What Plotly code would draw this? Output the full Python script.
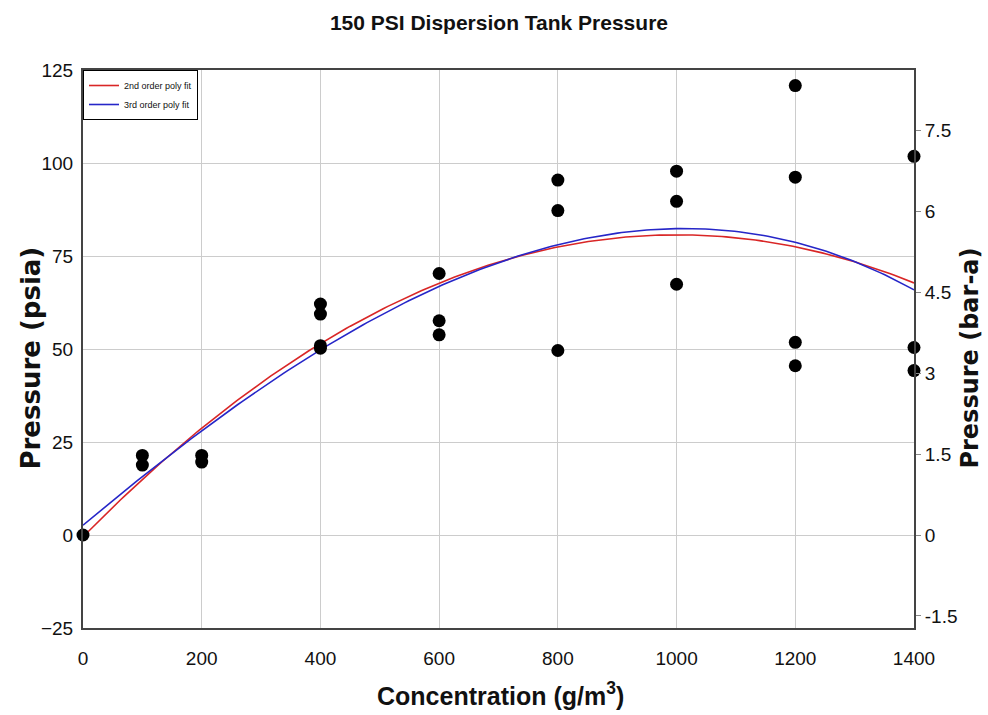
import numpy as np
import plotly.graph_objects as go

# Measured peak pressures at each dust concentration
conc = [0,
        100, 100,
        200, 200,
        400, 400, 400, 400,
        600, 600, 600,
        800, 800, 800,
        1000, 1000, 1000,
        1200, 1200, 1200, 1200,
        1400, 1400, 1400]
pressure_psia = [0.0,
                 21.4, 18.8,
                 21.4, 19.6,
                 62.1, 59.4, 50.9, 50.2,
                 70.3, 57.6, 53.8,
                 95.4, 87.2, 49.6,
                 97.8, 89.7, 67.4,
                 120.8, 96.2, 51.8, 45.5,
                 101.8, 50.4, 44.2]

x_ticks = [0, 200, 400, 600, 800, 1000, 1200, 1400]
psia_ticks = [-25, 0, 25, 50, 75, 100, 125]
bar_ticks = [-1.5, 0, 1.5, 3, 4.5, 6, 7.5]
PSI_PER_BAR = 14.5038

# least-squares polynomial fits of the measurements
x_arr = np.array(conc, dtype=float)
y_arr = np.array(pressure_psia, dtype=float)
xs = np.linspace(0, 1400, 200)
fit2 = np.polyval(np.polyfit(x_arr, y_arr, 2), xs)
fit3 = np.polyval(np.polyfit(x_arr, y_arr, 3), xs)

sans = "Liberation Sans, Arial, sans-serif"
heavy = "DejaVu Sans, Verdana, sans-serif"
ink = "#111111"

fig = go.Figure()
fig.add_trace(go.Scatter(x=xs, y=fit2, mode="lines", name="2nd order poly fit",
                         line=dict(color="#d92626", width=1.6)))
fig.add_trace(go.Scatter(x=xs, y=fit3, mode="lines", name="3rd order poly fit",
                         line=dict(color="#2626c8", width=1.6)))
fig.add_trace(go.Scatter(x=conc, y=pressure_psia, mode="markers", showlegend=False,
                         marker=dict(color="black", size=13, symbol="circle"),
                         cliponaxis=False))
# invisible trace to activate the bar-a axis
fig.add_trace(go.Scatter(x=[0], y=[0], yaxis="y2", mode="markers",
                         marker=dict(opacity=0), showlegend=False, hoverinfo="skip"))

fig.update_layout(
    width=988, height=715,
    margin=dict(l=83, r=74, t=70, b=87),
    paper_bgcolor="white", plot_bgcolor="white",
    title=dict(text="<b>150 PSI Dispersion Tank Pressure</b>", x=0.505, xanchor="center",
               y=0.969, yanchor="middle", font=dict(family=sans, size=21, color=ink)),
    xaxis=dict(range=[0, 1400], tickvals=x_ticks, showgrid=True, gridcolor="#cccccc",
               gridwidth=1, zeroline=False, showline=True, linecolor="#444", linewidth=2,
               mirror=True, ticks="", automargin=False, ticklabelstandoff=12,
               tickfont=dict(family=sans, size=19, color=ink)),
    yaxis=dict(range=[-25, 125], tickvals=psia_ticks, showgrid=True, gridcolor="#cccccc",
               gridwidth=1, zeroline=False, showline=True, linecolor="#444", linewidth=2,
               ticks="", automargin=False, ticklabelstandoff=4,
               tickfont=dict(family=sans, size=19, color=ink)),
    yaxis2=dict(overlaying="y", side="right", range=[-25 / PSI_PER_BAR, 125 / PSI_PER_BAR],
                tickvals=bar_ticks, ticktext=[f"{v:g}" for v in bar_ticks],
                showgrid=False, zeroline=False, showline=True, linecolor="#444", linewidth=2,
                ticks="outside", ticklen=5, tickcolor="#888", automargin=False,
                tickfont=dict(family=sans, size=19, color=ink)),
    legend=dict(x=0, y=1, xanchor="left", yanchor="top", bgcolor="white",
                bordercolor="black", borderwidth=1,
                font=dict(family=sans, size=9, color=ink),
                itemwidth=30, tracegroupgap=0),
    showlegend=True,
    annotations=[
        dict(text="<b>Concentration (g/m<sup>3</sup>)</b>", xref="paper", yref="paper",
             x=0.503, y=-0.118, xanchor="center", yanchor="middle", showarrow=False,
             font=dict(family=sans, size=25, color=ink)),
        dict(text="<b>Pressure (psia)</b>", xref="paper", yref="paper",
             x=-0.063, y=0.484, xanchor="center", yanchor="middle", textangle=-90,
             showarrow=False, font=dict(family=heavy, size=26, color=ink)),
        dict(text="<b>Pressure (bar-a)</b>", xref="paper", yref="paper",
             x=1.067, y=0.484, xanchor="center", yanchor="middle", textangle=-90,
             showarrow=False, font=dict(family=heavy, size=24, color=ink)),
    ],
)

fig.write_html("out.html")
